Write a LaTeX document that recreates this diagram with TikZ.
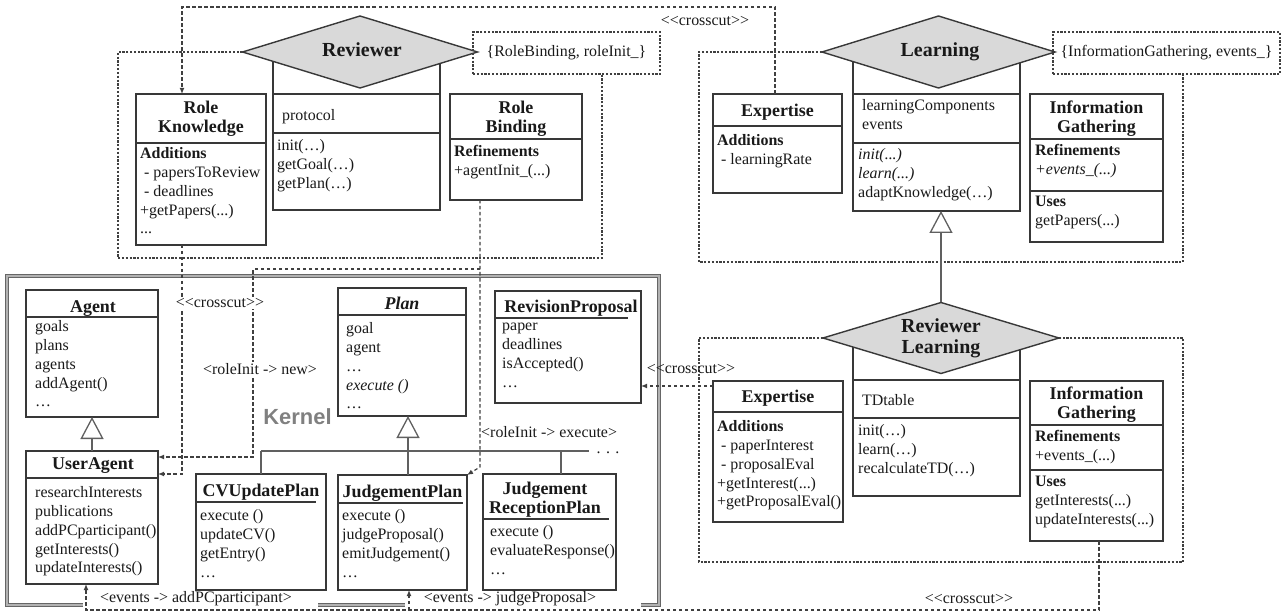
\documentclass[tikz,border=0pt]{standalone}
\usepackage{fontspec}
\setmainfont{Liberation Serif}
\newfontfamily\kernelfont{Liberation Sans}
\usetikzlibrary{shapes.geometric,arrows.meta}

\definecolor{linec}{gray}{0.22}
\definecolor{dashc}{gray}{0.25}
\definecolor{txtc}{gray}{0.1}
\definecolor{diaf}{gray}{0.85}
\definecolor{kerc}{gray}{0.5}

% <<crosscut>> stereotype, kerns keep the angle brackets apart
\newcommand\ccut{<\kern0pt<crosscut>\kern0pt>}

% class box given by its corners (x1,y1) (x2,y2)
\newcommand\umlbox[5]{%
  \node[cbox, minimum width={(#4-#2)*1bp}, minimum height={(#5-#3)*1bp}]
    (#1) at ({(#2+#4)/2},{(#3+#5)/2}) {};}
% compartment separator across a box at height y
\newcommand\hsep[2]{\draw[sepl] (#1.west |- 0,#2) -- (#1.east |- 0,#2);}

\tikzset{
  cbox/.style={draw=linec, line width=1.4bp, fill=white, inner sep=0, outer sep=0},
  sepl/.style={draw=linec, line width=1.4bp},
  solidl/.style={draw=linec!80, line width=1.3bp},
  inh/.style={draw=linec!80, line width=1.3bp, -{Triangle[open, length=22bp, width=23bp, line width=1.3bp]}},
  dia/.style={diamond, draw=linec, line width=1.4bp, fill=diaf, inner sep=0, outer sep=0},
  dlab/.style={font=\fontsize{20}{21}\selectfont\bfseries, text=txtc, inner sep=0, text height=13.5bp, text depth=0bp},
  dlab2/.style={font=\fontsize{20}{21}\selectfont\bfseries, text=txtc, inner sep=0, align=center},
  ttl/.style={font=\fontsize{18}{19}\selectfont\bfseries, text=txtc, inner sep=0, text height=12.5bp, text depth=0bp},
  ttl2/.style={font=\fontsize{18}{19}\selectfont\bfseries, text=txtc, inner sep=0, align=center},
  body/.style={font=\fontsize{16}{19}\selectfont, text=txtc, inner sep=0, align=left,
    anchor=north west, execute at begin node=\strut},
  lbl/.style={font=\fontsize{16}{19}\selectfont, text=txtc, inner sep=1.5bp},
  region/.style={draw=dashc, line width=1.1bp, dash pattern=on 2.2bp off 1.6bp},
  setbox/.style={draw=dashc, line width=1.1bp, dash pattern=on 2.2bp off 1.6bp,
    font=\fontsize{16}{19}\selectfont, text=txtc, inner sep=0},
  xcut/.style={draw=dashc, line width=1.2bp, dash pattern=on 3.5bp off 2.5bp,
    -{Latex[length=6bp, width=5bp]}},
  kframe/.style={draw=black!60, double=black!30, double distance=1.4bp, line width=0.9bp},
  kernlab/.style={font=\kernelfont\bfseries\fontsize{22}{24}\selectfont, text=kerc, anchor=base, inner sep=0}
}

\begin{document}
\begin{tikzpicture}[x=1bp, y=-1bp]
\useasboundingbox (0,0) rectangle (1282,613);

%% ================= Reviewer aspect =================
\umlbox{rv}{273}{58}{440}{210}
\hsep{rv}{94}\hsep{rv}{133}
\node[body] (rv-a) at (282,107) {protocol};
\node[body] (rv-m) at (277,139) {init(…)\\getGoal(…)\\getPlan(…)};
\node[dia, minimum width=235bp, minimum height=72bp] (rvd) at (360,52) {};
\node[dlab] (rvl) at (362,50) {Reviewer};

\umlbox{rk}{136}{94}{266}{245}
\hsep{rk}{143}
\node[ttl2] (rk-t) at (201,118.5) {Role\\Knowledge};
\node[body] (rk-b) at (140,147) {\textbf{Additions}\\\hspace*{4bp}- papersToReview\\\hspace*{4bp}- deadlines\\+getPapers(...)\\...};

\umlbox{rb}{450}{94}{582}{200}
\hsep{rb}{139}
\node[ttl2] (rb-t) at (516,118.5) {Role\\Binding};
\node[body] (rb-b) at (454,145) {\textbf{Refinements}\\+agentInit\_(...)};

\node[setbox, minimum width=187bp, minimum height=42bp] (rbset) at (566.5,53) {\{RoleBinding, roleInit\_\}};
\draw[region] (rvd.west) -- (118,52) -- (118,258) -- (602,258) -- (rbset.south -| 602,0);

%% ================= Learning aspect =================
\umlbox{lgc}{853}{58}{1020}{211}
\hsep{lgc}{94}\hsep{lgc}{143}
\node[body] (lgc-a) at (862,99) {learningComponents\\events};
\node[body] (lgc-m) at (858,148) {\textit{init(...)}\\\textit{learn(...)}\\adaptKnowledge(…)};
\node[dia, minimum width=233bp, minimum height=72bp] (lgd) at (938.5,52) {};
\node[dlab] (lgl) at (940,50) {Learning};

\umlbox{ext}{713}{94}{842}{193}
\hsep{ext}{126}
\node[ttl] (ext-t) at (777.5,110) {Expertise};
\node[body] (ext-b) at (717,134) {\textbf{Additions}\\\hspace*{4bp}- learningRate};

\umlbox{igt}{1030}{94}{1163}{242}
\hsep{igt}{139}\hsep{igt}{191}
\node[ttl2] (igt-t) at (1096.5,118.5) {Information\\Gathering};
\node[body] (igt-r) at (1035,144) {\textbf{Refinements}\\\textit{+events\_(...)}};
\node[body] (igt-u) at (1035,196) {\textbf{Uses}\\getPapers(...)};

\node[setbox, minimum width=227bp, minimum height=42bp] (igset) at (1166.5,53) {\{InformationGathering, events\_\}};
\draw[region] (lgd.west) -- (699,52) -- (699,262) -- (1183,262) -- (igset.south -| 1183,0);

%% ================= ReviewerLearning aspect =================
\umlbox{rlc}{853}{344}{1020}{496}
\hsep{rlc}{380}\hsep{rlc}{418}
\node[body] (rlc-a) at (862,392) {TDtable};
\node[body] (rlc-m) at (858,424) {init(…)\\learn(…)\\recalculateTD(…)};
\node[dia, minimum width=236bp, minimum height=71bp] (rld) at (941,338) {};
\node[dlab2] (rll) at (941,338.5) {Reviewer\\Learning};

\umlbox{exb}{713}{381}{843}{522}
\hsep{exb}{412}
\node[ttl] (exb-t) at (778,396) {Expertise};
\node[body] (exb-b) at (717,420) {\textbf{Additions}\\\hspace*{4bp}- paperInterest\\\hspace*{4bp}- proposalEval\\+getInterest(...)\\+getProposalEval()};

\umlbox{igb}{1030}{381}{1163}{541}
\hsep{igb}{425}\hsep{igb}{470}
\node[ttl2] (igb-t) at (1096.5,404.5) {Information\\Gathering};
\node[body] (igb-r) at (1035,430) {\textbf{Refinements}\\+events\_(...)};
\node[body] (igb-u) at (1035,476) {\textbf{Uses}\\getInterests(...)\\updateInterests(...)};

\draw[region] (rld.west) -- (699,338) -- (699,562) -- (1183,562) -- (1183,338) -- (rld.east);

% ReviewerLearning specialises Learning
\draw[inh] (rld.north) -- (rld.north |- lgc.south);

%% ================= Kernel =================
\draw[kframe] (83,605) -- (7,605) -- (7,276) -- (659,276) -- (659,605) -- (641,605);
\draw[kframe] (318,605) -- (405,605);
\node[kernlab] (kl) at (297.5,424) {Kernel};

\umlbox{ag}{26}{290}{158}{417}
\hsep{ag}{317}
\node[ttl] (ag-t) at (93,306) {Agent};
\node[body] (ag-b) at (35,320) {goals\\plans\\agents\\addAgent()\\…};

\umlbox{ua}{26}{451}{158}{584}
\hsep{ua}{478}
\node[ttl] (ua-t) at (93,463) {UserAgent};
\node[body] (ua-b) at (35,486) {researchInterests\\publications\\addPCparticipant()\\getInterests()\\updateInterests()};
\draw[inh] (ua.north) -- (ag.south);

\umlbox{pl}{338}{288}{466}{416}
\hsep{pl}{315}
\node[ttl] (pl-t) at (402,303) {\textit{Plan}};
\node[body] (pl-b) at (346,322) {goal\\agent\\…\\\textit{execute ()}\\…};

\umlbox{rp}{495}{291}{641}{403}
\draw[sepl] (rp.west |- 0,318) -- (628,318);
\node[ttl] (rp-t) at (571,306) {RevisionProposal};
\node[body] (rp-b) at (502,323) {paper\\deadlines\\isAccepted()\\…};

\umlbox{cv}{196}{474}{326}{590}
\draw[sepl] (cv.west |- 0,502) -- (316,502);
\node[ttl] (cv-t) at (261,490) {CVUpdatePlan};
\node[body] (cv-b) at (200,509) {execute ()\\updateCV()\\getEntry()\\…};

\umlbox{jp}{338}{475}{467}{590}
\draw[sepl] (jp.west |- 0,503) -- (463,503);
\node[ttl] (jp-t) at (402.5,491) {JudgementPlan};
\node[body] (jp-b) at (342,509) {execute ()\\judgeProposal()\\emitJudgement()\\…};

\umlbox{jr}{483}{474}{616}{590}
\draw[sepl] (jr.west |- 0,519) -- (609,519);
\node[ttl2] (jr-t) at (545,499.5) {Judgement\\ReceptionPlan};
\node[body] (jr-b) at (490,525) {execute ()\\evaluateResponse()\\…};

% plan hierarchy
\coordinate (busL) at (261,451);
\coordinate (busR) at (589,451);
\draw[inh] (jp.north -| 408,0) -- (pl.south -| 408,0);
\draw[solidl] (busL) -- (busR);
\draw[solidl] (busL) -- (cv.north -| busL);
\draw[solidl] (561,451) -- (jr.north -| 561,0);
\node[lbl, anchor=base] (more) at (608,453) {. . .};

%% ================= crosscut connectors =================
\draw[xcut] (ext.north -| 775,0) -- (775,7) -- (182,7) -- (rk.north -| 182,0);
\draw[xcut] (rk.south -| 182,0) -- (182,474) -- (ua.east |- 0,474);
\coordinate (rbj) at (480,269);
\draw[xcut] (rb.south -| 480,0) -- (480,467) -- (jp.north east);
\draw[xcut] (rbj) -- (253,269) -- (253,457) -- (ua.east |- 0,457);
\draw[xcut] (igb.south -| 1099,0) -- (1099,610) -- (86,610) -- (ua.south -| 86,0);
\draw[xcut] (409,610) -- (jp.south -| 409,0);
\draw[xcut] (exb.west |- 0,386) -- (rp.east |- 0,386);

\node[lbl, fill=white] (cc1) at (220,303) {\ccut};
\node[lbl, fill=white] (ri1) at (260,369) {<roleInit -> new>};
\node[lbl, anchor=west, inner sep=0] (ri2) at (481,432) {<roleInit -> execute>};
\node[lbl] (cc2) at (705,21) {\ccut};
\node[lbl] (cc3) at (691,369) {\ccut};
\node[lbl] (cc4) at (969,599) {\ccut};
\node[lbl] (ev1) at (196,599) {<events -> addPCparticipant>};
\node[lbl] (ev2) at (510,599) {<events -> judgeProposal>};
\end{tikzpicture}
\end{document}
